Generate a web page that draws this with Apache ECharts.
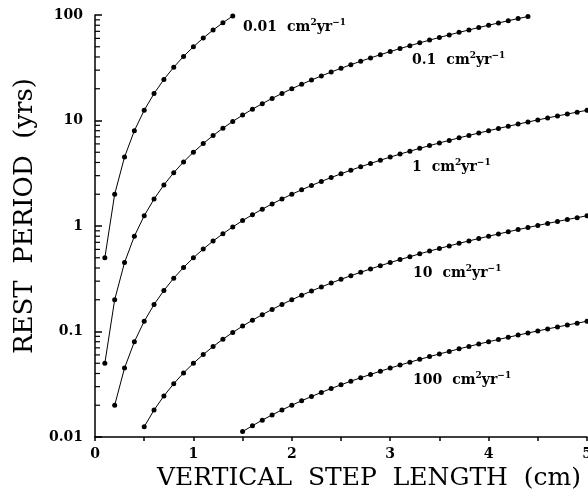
<!DOCTYPE html>
<html>
<head>
<meta charset="utf-8">
<script src="https://cdn.jsdelivr.net/npm/echarts@6/dist/echarts.min.js"></script>
<style>
  html, body { margin: 0; padding: 0; background: #fff; }
  #chart { width: 588px; height: 489px; }
</style>
</head>
<body>
<div id="chart"></div>
<script>
// step length (cm) -> rest period (yrs), one array per diffusivity
const d001X = [0.1, 0.2, 0.3, 0.4, 0.5, 0.6, 0.7, 0.8, 0.9, 1.0, 1.1, 1.2, 1.3, 1.4]
const d001Y = [0.5, 2, 4.5, 8, 12.5, 18, 24.5, 32, 40.5, 50, 60.5, 72, 84.5, 98]

const d01X = [0.1, 0.2, 0.3, 0.4, 0.5, 0.6, 0.7, 0.8, 0.9, 1.0, 1.1, 1.2, 1.3, 1.4, 1.5,
  1.6, 1.7, 1.8, 1.9, 2.0, 2.1, 2.2, 2.3, 2.4, 2.5, 2.6, 2.7, 2.8, 2.9, 3.0,
  3.1, 3.2, 3.3, 3.4, 3.5, 3.6, 3.7, 3.8, 3.9, 4.0, 4.1, 4.2, 4.3, 4.4]
const d01Y = [0.05, 0.2, 0.45, 0.8, 1.25, 1.8, 2.45, 3.2, 4.05, 5, 6.05, 7.2, 8.45, 9.8, 11.25,
  12.8, 14.45, 16.2, 18.05, 20, 22.05, 24.2, 26.45, 28.8, 31.25, 33.8, 36.45, 39.2, 42.05, 45,
  48.05, 51.2, 54.45, 57.8, 61.25, 64.8, 68.45, 72.2, 76.05, 80, 84.05, 88.2, 92.45, 96.8]

const d1X = [0.2, 0.3, 0.4, 0.5, 0.6, 0.7, 0.8, 0.9, 1.0, 1.1, 1.2, 1.3, 1.4, 1.5,
  1.6, 1.7, 1.8, 1.9, 2.0, 2.1, 2.2, 2.3, 2.4, 2.5, 2.6, 2.7, 2.8, 2.9, 3.0,
  3.1, 3.2, 3.3, 3.4, 3.5, 3.6, 3.7, 3.8, 3.9, 4.0, 4.1, 4.2, 4.3, 4.4, 4.5,
  4.6, 4.7, 4.8, 4.9, 5.0]
const d1Y = [0.02, 0.045, 0.08, 0.125, 0.18, 0.245, 0.32, 0.405, 0.5, 0.605, 0.72, 0.845, 0.98, 1.125,
  1.28, 1.445, 1.62, 1.805, 2, 2.205, 2.42, 2.645, 2.88, 3.125, 3.38, 3.645, 3.92, 4.205, 4.5,
  4.805, 5.12, 5.445, 5.78, 6.125, 6.48, 6.845, 7.22, 7.605, 8, 8.405, 8.82, 9.245, 9.68, 10.125,
  10.58, 11.045, 11.52, 12.005, 12.5]

const d10X = [0.5, 0.6, 0.7, 0.8, 0.9, 1.0, 1.1, 1.2, 1.3, 1.4, 1.5,
  1.6, 1.7, 1.8, 1.9, 2.0, 2.1, 2.2, 2.3, 2.4, 2.5, 2.6, 2.7, 2.8, 2.9, 3.0,
  3.1, 3.2, 3.3, 3.4, 3.5, 3.6, 3.7, 3.8, 3.9, 4.0, 4.1, 4.2, 4.3, 4.4, 4.5,
  4.6, 4.7, 4.8, 4.9, 5.0]
const d10Y = [0.0125, 0.018, 0.0245, 0.032, 0.0405, 0.05, 0.0605, 0.072, 0.0845, 0.098, 0.1125,
  0.128, 0.1445, 0.162, 0.1805, 0.2, 0.2205, 0.242, 0.2645, 0.288, 0.3125, 0.338, 0.3645, 0.392, 0.4205, 0.45,
  0.4805, 0.512, 0.5445, 0.578, 0.6125, 0.648, 0.6845, 0.722, 0.7605, 0.8, 0.8405, 0.882, 0.9245, 0.968, 1.0125,
  1.058, 1.1045, 1.152, 1.2005, 1.25]

const d100X = [1.5, 1.6, 1.7, 1.8, 1.9, 2.0, 2.1, 2.2, 2.3, 2.4, 2.5, 2.6, 2.7, 2.8, 2.9, 3.0,
  3.1, 3.2, 3.3, 3.4, 3.5, 3.6, 3.7, 3.8, 3.9, 4.0, 4.1, 4.2, 4.3, 4.4, 4.5,
  4.6, 4.7, 4.8, 4.9, 5.0]
const d100Y = [0.01125, 0.0128, 0.01445, 0.0162, 0.01805, 0.02, 0.02205, 0.0242, 0.02645, 0.0288, 0.03125, 0.0338, 0.03645, 0.0392, 0.04205, 0.045,
  0.04805, 0.0512, 0.05445, 0.0578, 0.06125, 0.0648, 0.06845, 0.0722, 0.07605, 0.08, 0.08405, 0.0882, 0.09245, 0.0968, 0.10125,
  0.1058, 0.11045, 0.1152, 0.12005, 0.125]

const curveNames = ['0.01', '0.1', '1', '10', '100']
const xTickLabels = ['0', '1', '2', '3', '4', '5']
// log-axis minor tick values (2..9 in each decade)
const yMinorTicks = [
  0.02, 0.03, 0.04, 0.05, 0.06, 0.07, 0.08, 0.09,
  0.2, 0.3, 0.4, 0.5, 0.6, 0.7, 0.8, 0.9,
  2, 3, 4, 5, 6, 7, 8, 9,
  20, 30, 40, 50, 60, 70, 80, 90
]

const serif = '"DejaVu Serif", "Liberation Serif", serif'

function pairs (xs, ys) {
    return xs.map((x, i) => [x, ys[i]])
}

function curve (name, xs, ys) {
    return {
        name: name,
        type: 'line',
        data: pairs(xs, ys),
        symbol: 'circle',
        symbolSize: 5,
        showSymbol: true,
        itemStyle: { color: '#000' },
        lineStyle: { color: '#000', width: 1 },
        silent: true,
        animation: false
    }
}

// labels next to each curve, cm²yr⁻¹
function curveLabel (txt, x, y) {
    return {
        type: 'text',
        x: x,
        y: y,
        style: {
            text: '{b|' + txt + '}   {b|cm}{s|2}{b|yr}{s|\u22121}',
            verticalAlign: 'middle',
            rich: {
                b: { font: 'bold 14px ' + serif, fill: '#000' },
                s: { font: 'bold 9px ' + serif, fill: '#000', verticalAlign: 'top', padding: [0, 0, 9, 0] }
            }
        }
    }
}

let myCharts = echarts.init(document.getElementById('chart'))
let option = {
    animation: false,
    grid: {
        left: 95,
        right: 1,
        top: 15,
        bottom: 52,
        containLabel: false,
        outerBoundsMode: 'none'
    },
    xAxis: {
        type: 'value',
        min: 0,
        max: 5,
        interval: 1,
        name: 'VERTICAL  STEP  LENGTH  (cm)',
        nameLocation: 'middle',
        nameGap: 18,
        nameTextStyle: { fontFamily: serif, fontSize: 25, color: '#000', padding: [0, 0, 0, 56] },
        axisLine: { show: true, lineStyle: { color: '#000', width: 1.5 } },
        axisTick: { show: true, inside: false, length: 4, lineStyle: { color: '#000', width: 1.5 } },
        minorTick: { show: true, splitNumber: 2, length: 4, lineStyle: { color: '#000', width: 1.5 } },
        axisLabel: {
            color: '#000',
            fontFamily: serif,
            fontWeight: 'bold',
            fontSize: 14,
            margin: 10,
            formatter: (v) => xTickLabels[Math.round(v)]
        },
        splitLine: { show: false }
    },
    yAxis: {
        type: 'log',
        logBase: 10,
        min: 0.01,
        max: 100,
        name: 'REST  PERIOD  (yrs)',
        nameLocation: 'middle',
        nameGap: 57,
        nameTextStyle: { fontFamily: serif, fontSize: 26, color: '#000', padding: [0, 0, 0, 20] },
        axisLine: { show: true, lineStyle: { color: '#000', width: 1.5 } },
        axisTick: { show: true, inside: true, length: 7, lineStyle: { color: '#000', width: 1.5 } },
        axisLabel: {
            color: '#000',
            fontFamily: serif,
            fontWeight: 'bold',
            fontSize: 14,
            margin: 12,
            formatter: (v) => String(v)
        },
        splitLine: { show: false }
    },
    graphic: [
        curveLabel(curveNames[0], 243, 27),
        curveLabel(curveNames[1], 412, 60),
        curveLabel(curveNames[2], 412, 167),
        curveLabel(curveNames[3], 413, 273),
        curveLabel(curveNames[4], 413, 380)
    ],
    series: [
        curve(curveNames[0], d001X, d001Y),
        curve(curveNames[1], d01X, d01Y),
        curve(curveNames[2], d1X, d1Y),
        curve(curveNames[3], d10X, d10Y),
        curve(curveNames[4], d100X, d100Y),
        {
            // minor ticks on the log y axis
            type: 'custom',
            silent: true,
            clip: false,
            z: 5,
            data: yMinorTicks.map((v) => [0, v]),
            renderItem: function (params, api) {
                const p = api.coord([0, api.value(1)])
                return {
                    type: 'line',
                    shape: { x1: p[0], y1: p[1], x2: p[0] + 5, y2: p[1] },
                    style: { stroke: '#000', lineWidth: 1.2 }
                }
            }
        }
    ]
}
myCharts.setOption(option)
window.onresize = myCharts.resize
</script>
</body>
</html>
